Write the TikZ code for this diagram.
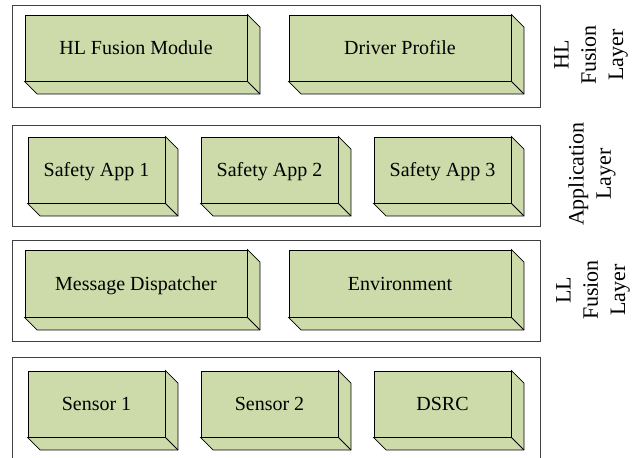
\documentclass[tikz,border=0pt]{standalone}
\usepackage{fontspec}
\setmainfont{Liberation Serif}
\usetikzlibrary{calc}
\definecolor{boxgreen}{RGB}{205,219,170}
\tikzset{
  cubeface/.style={draw=black, line width=0.65pt, fill=boxgreen, inner sep=0pt,
    text height=9.9pt, text depth=0pt, font=\fontsize{15}{18}\selectfont},
  cubeside/.style={draw=black, line width=0.65pt, fill=boxgreen, line join=miter},
  layerframe/.style={draw=black!75, line width=0.65pt},
  layerlabel/.style={rotate=90, align=center, inner sep=0pt,
    font=\fontsize{16.5}{20.5}\selectfont}
}
% #1 name, #2 x1, #3 y1, #4 x2, #5 y2, #6 text
\newcommand{\cubebox}[6]{%
  \node[cubeface, minimum width={0.75pt*(#4-#2)}, minimum height={0.75pt*(#5-#3)}]
    (#1) at ({(#2+#4)/2},{(#3+#5)/2}) {#6};
  \path[cubeside] (#1.north east) -- ++(12.5,12.5) -- ($(#1.south east)+(12.5,12.5)$)
    -- ($(#1.south west)+(12.5,12.5)$) -- (#1.south west) -- (#1.south east) -- cycle;
  \draw[line width=0.65pt] (#1.south east) -- ++(12.5,12.5);
}
\begin{document}
\begin{tikzpicture}[x=0.75pt, y=-0.75pt]
  \clip (0,0) rectangle (639,457);
  \fill[white] (0,0) rectangle (639,457);
  % layer frames
  \draw[layerframe] (12,5) rectangle (540,107);
  \draw[layerframe] (12,125) rectangle (540,226);
  \draw[layerframe] (12,240) rectangle (540,341);
  \draw[layerframe] (12,357) rectangle (540,475);
  % HL fusion layer
  \cubebox{hlfm}{25}{15}{247}{81}{HL Fusion Module}
  \cubebox{dp}{289}{15}{511}{81}{Driver Profile}
  % application layer
  \cubebox{sa1}{28}{137}{165}{203}{Safety App 1}
  \cubebox{sa2}{201}{137}{338}{203}{Safety App 2}
  \cubebox{sa3}{374}{137}{511}{203}{Safety App 3}
  % LL fusion layer
  \cubebox{md}{25}{250}{247}{317}{Message Dispatcher}
  \cubebox{env}{289}{250}{511}{317}{Environment}
  % sensors
  \cubebox{s1}{28}{371}{165}{437}{Sensor 1}
  \cubebox{s2}{201}{371}{338}{437}{Sensor 2}
  \cubebox{dsrc}{374}{371}{511}{437}{DSRC}
  % labels
  \node[layerlabel] (lblhl) at (591,55) {HL\\Fusion\\Layer};
  \node[layerlabel] (lblapp) at (592,174) {Application\\Layer};
  \node[layerlabel] (lblll) at (593,290) {LL\\Fusion\\Layer};
\end{tikzpicture}
\end{document}
